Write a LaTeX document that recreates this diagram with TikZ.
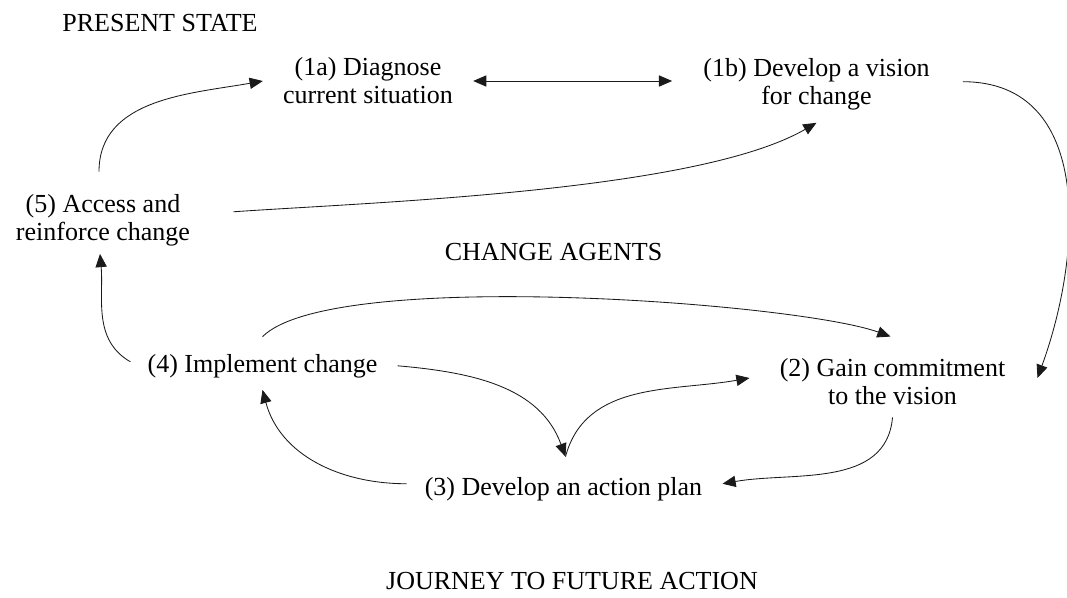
\documentclass[tikz,border=0pt]{standalone}
\usepackage{fontspec}
\setmainfont{Liberation Serif}
\usetikzlibrary{arrows.meta,calc}
\definecolor{InkDark}{HTML}{1A1A1A}
\tikzset{
  stage/.style={align=center, inner xsep=0.5cm, inner ysep=0.3cm,
                font=\fontsize{18.5}{19.9}\selectfont, text=black},
  caption/.style={inner sep=0pt, anchor=base,
                font=\fontsize{18.5}{19.9}\selectfont, text=black},
  flow/.style={-{Triangle[length=0.33cm, width=0.28cm]}, line width=0.6pt, draw=InkDark},
  flowboth/.style={{Triangle[length=0.33cm, width=0.28cm]}-{Triangle[length=0.33cm, width=0.28cm]}, line width=0.6pt, draw=InkDark},
}
\begin{document}
\begin{tikzpicture}[x=0.025cm, y=0.025cm]
\useasboundingbox (0,0) rectangle (1067,-598);
% ===================== headings
\node[caption] (present) at (160,-31) {PRESENT STATE};
\node[caption] (agents) at (553.5,-260) {CHANGE AGENTS};
\node[caption] (journey) at (572,-589) {JOURNEY TO FUTURE ACTION};
% ===================== stages of the cycle
\node[stage] (n1a) at (368,-81) {(1a) Diagnose\\current situation};
\node[stage] (n1b) at (816.5,-84.7) {(1b) Develop a vision\\for change};
\node[stage] (n5) at (103,-219.8) {(5) Access and\\reinforce change};
\node[stage, anchor=base] (n4) at (262.5,-372) {(4) Implement change};
\node[stage] (n2) at (892.5,-382) {(2) Gain commitment\\to the vision};
\node[stage, anchor=base] (n3) at (563.5,-495) {(3) Develop an action plan};
% ===================== connectors
\draw[flowboth] (n1a.east) -- ($(n1b.west |- n1a.east)+(-11,0)$);
\draw[flow] ([shift={(-4,10)}]n5.north) to[out=90, in=190] (n1a.west);
\draw[flow] ([shift={(23,8)}]n5.east) to[out=4, in=210, looseness=0.6] (n1b.south);
\draw[flow] ([shift={(13,3)}]n1b.east) to[out=0, in=70, looseness=1.1] ([shift={(12,4)}]n2.east);
\draw[flow] ([shift={(0,5)}]n4.north) to[out=45, in=160, looseness=0.4] ([shift={(-2,10)}]n2.north);
\draw[flow] (n4.east) to[out=-5, in=110] ([shift={(2,8)}]n3.north);
\draw[flow] ([shift={(2,8)}]n3.north) to[out=75, in=190] ([shift={(-10,4)}]n2.west);
\draw[flow] (n2.south) to[out=265, in=10] ([shift={(0,5)}]n3.east);
\draw[flow] ([shift={(2,5)}]n3.west) to[out=180, in=-75] (n4.south);
\draw[flow] ([shift={(3,4)}]n4.west) to[out=150, in=-85] ([shift={(-3,4)}]n5.south);
\end{tikzpicture}
\end{document}
